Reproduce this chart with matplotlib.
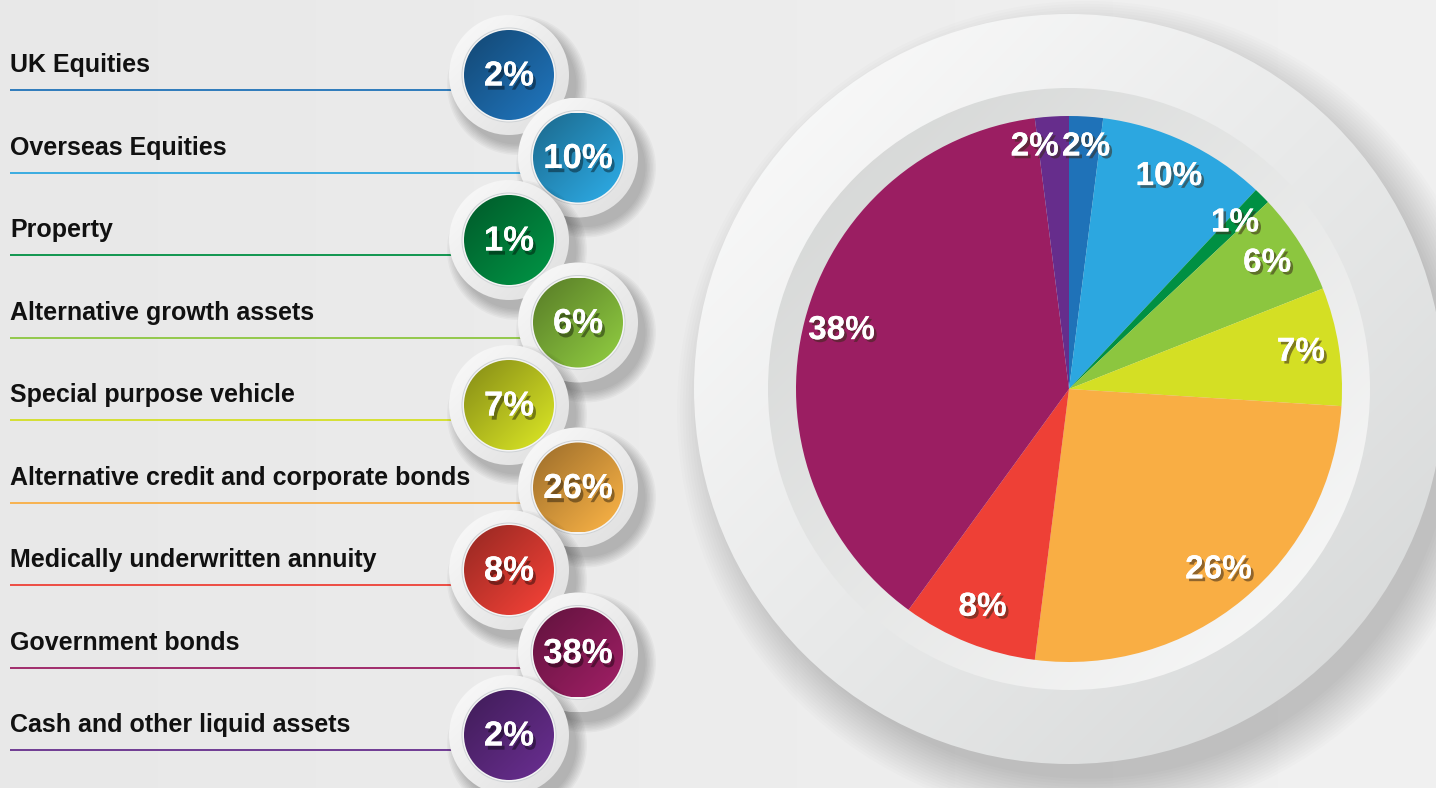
import numpy as np
import matplotlib
matplotlib.use("Agg")
import matplotlib.pyplot as plt
from matplotlib.patches import Circle
from matplotlib.colors import to_rgb
import matplotlib.patheffects as pe

# ---- data ----
categories = ["UK Equities", "Overseas Equities", "Property", "Alternative growth assets",
              "Special purpose vehicle", "Alternative credit and corporate bonds",
              "Medically underwritten annuity", "Government bonds", "Cash and other liquid assets"]
values = [2, 10, 1, 6, 7, 26, 8, 38, 2]
colors = ["#1f72b8", "#2ca7e0", "#009043", "#8cc63f", "#d4df24",
          "#f9ae44", "#ee4036", "#9b1e62", "#662d8c"]

FONT = "Liberation Sans"
W, H = 1436, 788
fig = plt.figure(figsize=(W / 100, H / 100), dpi=100)
ax = fig.add_axes([0, 0, 1, 1])
ax.set_xlim(0, W)
ax.set_ylim(H, 0)
ax.set_aspect("equal")
ax.axis("off")

# background gradient
bg = np.linspace(0.91, 0.945, 200)[None, :].repeat(2, axis=0)
ax.imshow(np.dstack([bg, bg, bg]), extent=(0, W, H, 0), origin="upper",
          aspect="auto", zorder=0)


def grad_circle(cx, cy, r, c_tl, c_br, z, n=200):
    c1 = np.array(to_rgb(c_tl))
    c2 = np.array(to_rgb(c_br))
    u = np.linspace(0, 1, n)
    t = (u[None, :] + u[:, None]) / 2
    img = c1[None, None, :] * (1 - t[..., None]) + c2[None, None, :] * t[..., None]
    im = ax.imshow(img, extent=(cx - r, cx + r, cy + r, cy - r), origin="upper",
                   zorder=z, interpolation="bilinear")
    clip = Circle((cx, cy), r, transform=ax.transData)
    im.set_clip_path(clip)
    return im


def soft_shadow(cx, cy, r, dx, dy, z, steps=12, spread=20, alpha=0.035):
    for k in range(steps):
        ax.add_patch(Circle((cx + dx, cy + dy), r + spread * (k + 1) / steps,
                            color="black", alpha=alpha, lw=0, zorder=z))


# ---- big pie backdrop ----
PCX, PCY = 1069, 389
soft_shadow(PCX, PCY, 365, 18, 22, 1, steps=16, spread=45, alpha=0.011)
grad_circle(PCX, PCY, 375, "#fdfdfd", "#d4d6d6", 2)
grad_circle(PCX, PCY, 301, "#d2d4d3", "#fbfbfb", 3)

wedges, texts, autotexts = ax.pie(
    values, colors=colors, center=(PCX, PCY), radius=273,
    startangle=-90, counterclock=True, frame=False,
    autopct=lambda p: f"{p:.0f}%", pctdistance=0.86,
    wedgeprops=dict(linewidth=0, zorder=4),
    textprops=dict(color="white", fontsize=24, fontweight="bold", family=FONT, zorder=6))
for t in autotexts:
    t.set_path_effects([pe.withSimplePatchShadow(offset=(2, -2), shadow_rgbFace="#3a2a1a", alpha=0.55),
                        pe.Normal()])
# the two thin top slices: set labels side by side
x0, y0 = autotexts[0].get_position()
autotexts[0].set_ha("left")
autotexts[0].set_position((PCX - 7, 147))
autotexts[-1].set_ha("right")
autotexts[-1].set_position((PCX - 10, 147))
ax.set_xlim(0, W)
ax.set_ylim(H, 0)
ax.axis("off")

# ---- left legend with badges ----
for i, (cat, v, c) in enumerate(zip(categories, values, colors)):
    by = 75 + i * 82.5
    bx = 509 if i % 2 == 0 else 578
    ty = 65 + i * 82.5
    ly = 90 + i * 82.5
    ax.text(10, ty, cat, fontsize=18, fontweight="bold", family=FONT, color="#111111",
            va="center", ha="left", zorder=10)
    ax.plot([10, bx], [ly, ly], color=c, lw=1.3, zorder=10, solid_capstyle="butt")
    z = 20 + i * 5
    soft_shadow(bx, by, 58, 8, 10, z, steps=8, spread=12, alpha=0.03)
    grad_circle(bx, by, 60, "#fbfbfb", "#dedede", z + 1)
    ax.add_patch(Circle((bx, by), 47.5, color="#cfd3d6", lw=0, zorder=z + 2))
    ax.add_patch(Circle((bx, by), 46.5, color="#f4f4f4", lw=0, zorder=z + 2.2))
    cr = np.array(to_rgb(c))
    dark = cr * 0.62
    grad_circle(bx, by, 45, dark, np.minimum(cr * 1.05, 1), z + 3)
    ax.text(bx, by + 1, f"{v}%", fontsize=25, fontweight="bold", family=FONT, color="white",
            ha="center", va="center", zorder=z + 4,
            path_effects=[pe.withSimplePatchShadow(offset=(2, -3), shadow_rgbFace="black", alpha=0.4),
                          pe.Normal()])

fig.savefig("out.png", dpi=100)
